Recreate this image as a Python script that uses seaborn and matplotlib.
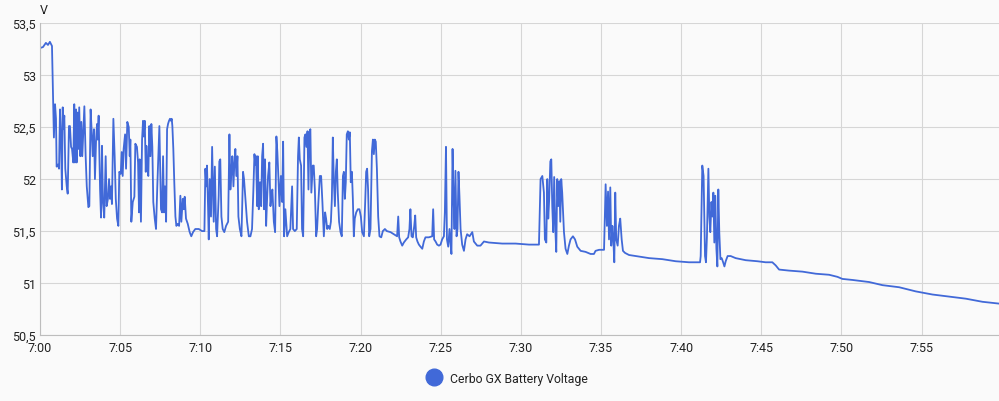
import matplotlib
matplotlib.use("Agg")
import matplotlib.pyplot as plt
import seaborn as sns
import pandas as pd
from matplotlib.ticker import FuncFormatter
from matplotlib.lines import Line2D

# minutes after 7:00 and battery voltage
minutes = [
    0.00, 0.19, 0.37, 0.50, 0.62, 0.75, 0.81, 0.87, 0.94, 1.00, 1.04, 1.12, 1.19, 1.25, 1.31, 1.37,
    1.42, 1.45, 1.52, 1.58, 1.67, 1.73, 1.81, 1.87, 1.94, 2.00, 2.08, 2.14, 2.18, 2.25, 2.29, 2.35,
    2.39, 2.45, 2.52, 2.58, 2.64, 2.70, 2.77, 2.85, 2.92, 3.02, 3.08, 3.16, 3.23, 3.29, 3.37, 3.43,
    3.50, 3.56, 3.60, 3.66, 3.75, 3.81, 3.87, 3.93, 4.01, 4.10, 4.16, 4.24, 4.31, 4.37, 4.43, 4.49,
    4.58, 4.66, 4.73, 4.81, 4.89, 4.95, 5.04, 5.10, 5.16, 5.22, 5.31, 5.37, 5.45,
    5.54, 5.60, 5.64, 5.70, 5.79, 5.89, 5.95, 6.05, 6.12, 6.18, 6.22, 6.30, 6.37, 6.43, 6.47, 6.54,
    6.60, 6.64, 6.70, 6.76, 6.82, 6.89, 6.95, 7.01, 7.07, 7.16, 7.24, 7.32, 7.38, 7.45, 7.51, 7.55,
    7.62, 7.68, 7.74, 7.80, 7.87, 7.93, 7.99, 8.05, 8.11, 8.18, 8.22, 8.26, 8.32, 8.38, 8.45, 8.51,
    8.60, 8.68, 8.76, 8.82, 8.91, 8.97, 9.03, 9.11, 9.22, 9.34, 9.44, 9.55, 9.69, 9.91, 10.11, 10.26,
    10.32, 10.38, 10.42, 10.49, 10.53, 10.59, 10.67, 10.74, 10.84, 10.91, 10.99, 11.05, 11.15, 11.19,
    11.25, 11.32, 11.40, 11.50, 11.61, 11.74, 11.82, 11.88, 11.94, 12.00, 12.07, 12.13, 12.19, 12.25,
    12.32, 12.38, 12.47, 12.57, 12.67, 12.73, 12.82, 12.92, 13.03, 13.13, 13.23, 13.31, 13.38, 13.44,
    13.48, 13.55, 13.59, 13.65, 13.73, 13.80, 13.86, 13.92, 13.98, 14.04, 14.11, 14.17, 14.23, 14.31,
    14.38, 14.44, 14.50, 14.59, 14.67, 14.75, 14.81, 14.88, 14.94, 15.03, 15.11, 15.17, 15.23, 15.31,
    15.42, 15.52, 15.62, 15.73, 15.79, 15.90, 16.02, 16.10, 16.15, 16.21, 16.29, 16.35, 16.42, 16.50,
    16.56, 16.62, 16.69, 16.75, 16.81, 16.87, 16.93, 17.02, 17.08, 17.15, 17.23, 17.29, 17.37, 17.46,
    17.54, 17.62, 17.71, 17.79, 17.85, 17.92, 18.00, 18.08, 18.15, 18.21, 18.27, 18.33, 18.40, 18.46,
    18.52, 18.58, 18.66, 18.75, 18.83, 18.90, 18.96, 19.02, 19.08, 19.14, 19.21, 19.27, 19.33, 19.39,
    19.46, 19.52, 19.58, 19.64, 19.73, 19.83, 19.93, 20.02, 20.10, 20.21, 20.29, 20.35, 20.41, 20.47,
    20.54, 20.62, 20.71, 20.77, 20.83, 20.89, 20.95, 21.02, 21.10, 21.18, 21.29, 21.39, 21.52, 21.64,
    21.87, 22.08, 22.28, 22.35, 22.41, 22.49, 22.60, 22.70, 22.85, 22.97, 23.05, 23.11, 23.18, 23.26,
    23.35, 23.41, 23.47, 23.55, 23.64, 23.74, 23.85, 23.95, 24.05, 24.26, 24.47, 24.53, 24.59, 24.68,
    24.78, 24.89, 24.99, 25.09, 25.20, 25.26, 25.33, 25.39, 25.47, 25.55, 25.61, 25.67, 25.74, 25.80,
    25.86, 25.92, 25.99, 26.05, 26.11, 26.17, 26.24, 26.34, 26.45, 26.55, 26.65, 26.80, 26.97, 27.07,
    27.28, 27.48, 27.70, 28.01, 28.84, 29.67, 30.51, 31.13, 31.23, 31.34, 31.44, 31.50, 31.59, 31.65,
    31.71, 31.77, 31.84, 31.90, 31.96, 32.02, 32.08, 32.15, 32.21, 32.27, 32.33, 32.40, 32.46, 32.52,
    32.58, 32.69, 32.79, 32.90, 33.00, 33.10, 33.25, 33.38, 33.52, 33.73, 34.04, 34.35, 34.56, 34.66,
    34.88, 35.19, 35.29, 35.37, 35.44, 35.50, 35.58, 35.64, 35.71, 35.77, 35.83, 35.89, 35.95, 36.04,
    36.12, 36.20, 36.29, 36.37, 36.50, 36.75, 37.16, 38.00, 38.83, 39.66, 40.49, 41.18, 41.22, 41.32,
    41.40, 41.49, 41.55, 41.61, 41.70, 41.76, 41.82, 41.89, 41.95, 42.01, 42.07, 42.13, 42.20, 42.26,
    42.32, 42.38, 42.45, 42.53, 42.62, 42.70, 42.78, 42.90, 43.09, 43.40, 44.03, 44.76, 45.27, 45.69,
    45.90, 46.11, 46.73, 47.57, 48.40, 49.23, 49.75, 50.06, 50.69, 51.73, 52.56, 53.60, 54.64, 55.68,
    56.72, 57.76, 58.80, 59.99,
]
volts = [
    53.26, 53.27, 53.31, 53.29, 53.32, 53.28, 52.85, 52.40, 52.72, 52.58, 52.12, 52.14, 52.10, 52.67, 52.41, 51.90,
    52.69, 52.48, 52.61, 52.10, 51.93, 51.86, 52.51, 52.51, 52.31, 52.29, 52.16, 52.72, 52.16, 52.67, 52.16, 52.64,
    52.29, 52.69, 52.22, 52.55, 52.22, 52.45, 52.70, 52.22, 51.93, 51.73, 51.74, 52.67, 52.45, 52.22, 52.48, 52.00,
    52.37, 52.53, 52.38, 52.61, 51.90, 51.63, 52.32, 51.78, 51.63, 52.22, 51.74, 51.81, 52.00, 51.81, 51.93, 51.76,
    52.58, 52.22, 51.81, 51.62, 51.55, 52.07, 52.05, 52.26, 52.03, 52.29, 52.43, 52.10, 52.55,
    52.50, 52.22, 52.38, 51.59, 51.78, 51.83, 52.34, 52.31, 52.16, 51.68, 52.19, 51.59, 52.38, 52.56, 52.41, 52.56,
    52.07, 52.32, 52.10, 52.03, 52.51, 52.22, 52.53, 52.31, 51.78, 51.62, 51.52, 51.93, 52.19, 52.51, 52.00, 51.71,
    51.68, 52.22, 51.68, 51.93, 51.59, 52.48, 52.53, 52.56, 52.58, 52.56, 52.58, 52.51, 52.29, 51.97, 51.64, 51.55,
    51.57, 51.55, 51.84, 51.59, 51.81, 51.71, 51.83, 51.62, 51.57, 51.49, 51.45, 51.49, 51.52, 51.52, 51.50, 51.50,
    52.10, 51.93, 52.13, 51.71, 51.42, 52.00, 51.64, 52.31, 51.59, 52.12, 51.52, 51.45, 51.84, 52.17,
    52.19, 51.64, 51.52, 51.49, 51.55, 51.59, 52.43, 51.90, 52.07, 52.22, 51.93, 52.16, 52.29, 52.03,
    52.22, 51.64, 51.52, 51.45, 52.07, 52.00, 51.81, 51.59, 51.45, 51.45, 51.52, 51.88, 52.24, 52.14,
    52.22, 51.74, 52.22, 51.71, 51.97, 51.74, 52.22, 52.34, 51.71, 52.19, 51.55, 51.81, 52.03, 52.16,
    51.74, 51.84, 51.90, 51.59, 51.49, 52.41, 52.26, 52.00, 51.74, 52.03, 51.78, 52.36, 51.45, 51.71,
    51.45, 51.49, 51.52, 51.93, 51.52, 51.50, 51.52, 52.22, 52.40, 52.19, 52.13, 51.52, 51.45, 52.40,
    52.43, 52.31, 52.46, 51.90, 52.45, 52.48, 51.87, 52.13, 52.13, 51.90, 51.45, 51.52, 51.78, 52.03,
    52.03, 51.78, 51.45, 51.68, 51.62, 51.52, 51.55, 51.52, 51.59, 51.81, 52.40, 52.00, 51.74, 52.07,
    52.19, 51.87, 51.59, 51.49, 51.45, 52.03, 52.07, 51.81, 51.97, 52.43, 52.46, 52.38, 52.45, 51.97,
    52.07, 51.81, 51.45, 51.62, 51.68, 51.71, 51.71, 51.64, 51.49, 51.45, 51.78, 52.07, 52.10, 51.90,
    51.45, 51.52, 52.27, 52.38, 52.24, 52.38, 52.36, 52.10, 51.64, 51.45, 51.44, 51.50, 51.52, 51.50,
    51.49, 51.47, 51.45, 51.64, 51.44, 51.40, 51.36, 51.39, 51.42, 51.44, 51.52, 51.71, 51.45, 51.44,
    51.55, 51.65, 51.44, 51.40, 51.37, 51.35, 51.33, 51.40, 51.44, 51.44, 51.45, 51.71, 51.42, 51.40,
    51.37, 51.36, 51.37, 51.42, 51.45, 51.68, 52.31, 51.42, 51.35, 51.52, 51.39, 51.28, 52.29, 51.84,
    51.52, 52.08, 51.45, 51.52, 52.07, 51.84, 51.52, 51.37, 51.31, 51.42, 51.47, 51.45, 51.49, 51.40,
    51.36, 51.36, 51.40, 51.39, 51.38, 51.38, 51.37, 51.37, 52.00, 52.03, 51.87, 51.42, 51.39, 52.00,
    51.62, 51.81, 52.17, 52.19, 51.74, 51.49, 52.02, 51.52, 51.30, 52.00, 51.74, 51.98, 51.59, 52.00,
    51.87, 51.49, 51.33, 51.28, 51.36, 51.42, 51.45, 51.42, 51.35, 51.31, 51.30, 51.28, 51.28, 51.31,
    51.32, 51.32, 51.95, 51.55, 51.88, 51.42, 51.92, 51.36, 51.55, 51.42, 51.20, 51.87, 51.42, 51.36,
    51.55, 51.62, 51.42, 51.31, 51.29, 51.27, 51.26, 51.24, 51.23, 51.21, 51.20, 51.20, 51.26, 52.13,
    52.03, 51.26, 51.20, 51.45, 52.10, 51.64, 51.49, 51.78, 51.64, 51.87, 51.39, 51.84, 51.33, 51.16,
    51.90, 51.49, 51.23, 51.24, 51.20, 51.16, 51.21, 51.26, 51.26, 51.24, 51.22, 51.21, 51.20, 51.20,
    51.17, 51.13, 51.12, 51.11, 51.09, 51.08, 51.06, 51.04, 51.03, 51.01, 50.98, 50.96, 50.92, 50.89,
    50.87, 50.85, 50.82, 50.80,
]
series_name = "Cerbo GX Battery Voltage"
y_ticks = [50.5, 51, 51.5, 52, 52.5, 53, 53.5]
x_ticks = list(range(0, 60, 5))

df = pd.DataFrame({"minute": minutes, "volt": volts})

sns.set_style("whitegrid")
plt.rcParams['font.family'] = ['Roboto', 'DejaVu Sans']

bg = "#fafafa"
line_color = "#4169d8"

fig = plt.figure(figsize=(9.99, 4.02), dpi=100, facecolor=bg)
ax = fig.add_axes([0.040, 0.164, 0.960, 0.776], facecolor=bg)

sns.lineplot(data=df, x="minute", y="volt", ax=ax, color=line_color, linewidth=1.3, legend=False)

ax.set_xlim(0, 59.83)
ax.set_ylim(50.5, 53.5)
ax.set_xticks(x_ticks)
ax.set_yticks(y_ticks)
ax.xaxis.set_major_formatter(FuncFormatter(lambda v, p: f"7:{int(round(v)):02d}"))
ax.yaxis.set_major_formatter(FuncFormatter(lambda v, p: f"{v:g}".replace(".", ",")))
ax.grid(True, color="#d6d6d6", linewidth=0.8)
ax.tick_params(axis="both", length=0, labelsize=9, colors="#222222")
ax.tick_params(axis="x", pad=4)
ax.tick_params(axis="y", pad=3)
ax.set_xlabel("")
ax.set_ylabel("")
for side in ["top", "right"]:
    ax.spines[side].set_visible(False)
for side in ["left", "bottom"]:
    ax.spines[side].set_color("#bdbdbd")
    ax.spines[side].set_linewidth(0.8)

fig.text(0.040, 0.975, "V", fontsize=9, color="#222222", ha="left", va="center")

handle = Line2D([], [], marker="o", linestyle="", markersize=12,
                markerfacecolor=line_color, markeredgecolor=line_color)
fig.legend([handle], [series_name], loc="center", bbox_to_anchor=(0.505, 0.057),
           frameon=False, fontsize=8.8, handletextpad=0.3, labelcolor="#222222")

fig.savefig("out.png", dpi=100, facecolor=bg)
